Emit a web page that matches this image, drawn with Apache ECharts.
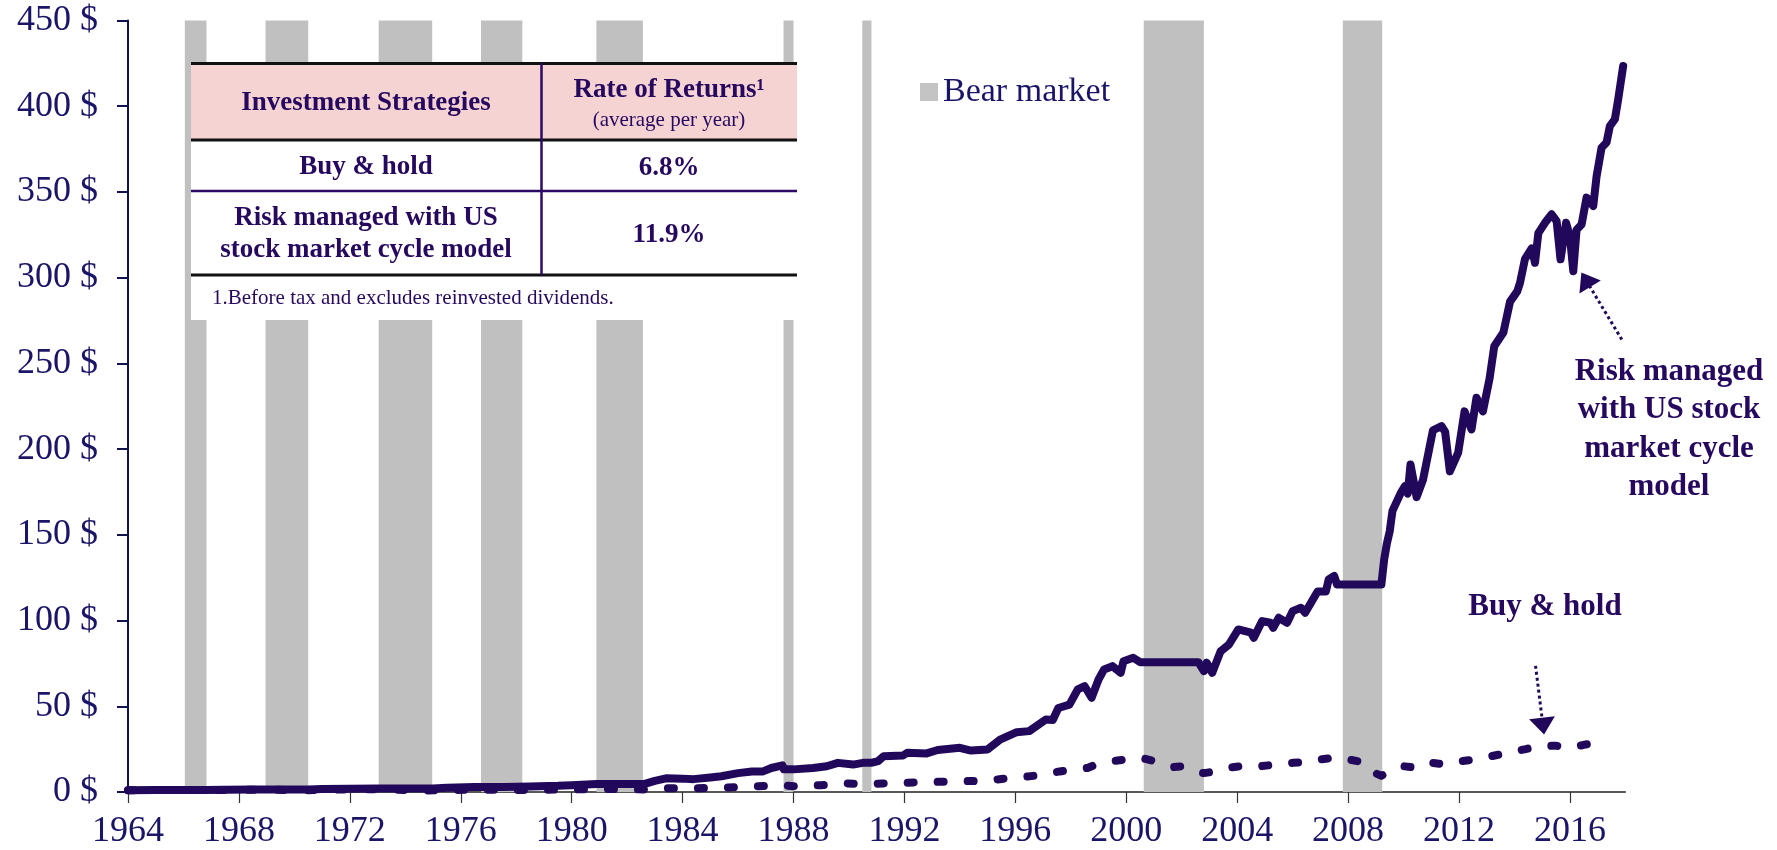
<!DOCTYPE html>
<html>
<head>
<meta charset="utf-8">
<script src="https://cdn.jsdelivr.net/npm/echarts@6/dist/echarts.min.js"></script>
<style>
html,body{margin:0;padding:0;background:#fff;}
#chart{width:1777px;height:850px;}
</style>
</head>
<body>
<div id="chart"></div>
<script>
// ---------- DATA ----------
const xTickLabels = [1964,1968,1972,1976,1980,1984,1988,1992,1996,2000,2004,2008,2012,2016];

const bearStart = [1966.05,1968.96,1973.04,1976.73,1980.89,1987.64,1990.48,2000.63,2007.81];
const bearEnd   = [1966.83,1970.50,1974.97,1978.22,1982.57,1988.00,1990.81,2002.80,2009.23];

const riskYears = [1964.0,1965.0,1966.0,1966.8,1967.5,1968.5,1969.0,1970.5,1971.0,1972.0,1973.0,1975.0,1975.5,1976.5,1977.5,1978.5,1979.5,1980.0,1980.9,1982.6,1983.0,1983.4,1984.0,1984.4,1985.0,1985.4,1986.0,1986.5,1986.9,1987.2,1987.6,1987.65,1988.0,1988.7,1989.2,1989.6,1990.15,1990.5,1990.8,1991.05,1991.25,1991.95,1992.1,1992.8,1993.2,1994.0,1994.4,1995.0,1995.45,1996.05,1996.5,1997.1,1997.35,1997.55,1997.95,1998.25,1998.5,1998.75,1999.0,1999.2,1999.5,1999.8,1999.9,2000.25,2000.5,2002.6,2002.8,2002.9,2003.1,2003.4,2003.7,2004.04,2004.5,2004.6,2004.9,2005.2,2005.3,2005.5,2005.8,2006.0,2006.3,2006.45,2006.9,2007.2,2007.3,2007.5,2007.6,2009.2,2009.3,2009.4,2009.5,2009.6,2009.9,2010.05,2010.15,2010.25,2010.47,2010.7,2011.06,2011.37,2011.5,2011.67,2011.97,2012.2,2012.45,2012.63,2012.86,2013.1,2013.27,2013.6,2013.84,2014.1,2014.2,2014.38,2014.62,2014.74,2014.86,2015.1,2015.34,2015.52,2015.66,2015.86,2016.0,2016.12,2016.24,2016.42,2016.6,2016.84,2016.96,2017.14,2017.32,2017.44,2017.62,2017.74,2017.92];
const riskValues = [1.0,1.1,1.2,1.2,1.3,1.4,1.5,1.5,1.7,1.9,2.0,2.0,2.5,2.9,2.9,3.2,3.6,4.0,4.6,4.6,6.5,8.0,7.8,7.5,8.5,9.2,11.0,12.0,12.0,14.0,15.5,13.2,13.2,14.0,15.0,17.0,16.0,17.0,17.0,18.0,20.8,21.3,22.9,22.5,24.5,25.8,24.2,24.8,30.6,34.9,35.5,42.3,42.0,49.0,51.0,59.8,61.7,55.0,65.6,71.5,73.4,69.5,76.3,78.3,75.7,75.7,70.5,75.4,69.5,82.0,86.0,94.8,92.9,90.0,99.7,98.7,95.8,101.6,98.7,105.5,107.5,104.5,117.0,117.0,124.0,126.0,121.0,121.0,135.6,145.0,152.0,164.0,174.5,178.4,174.0,191.0,172.0,182.0,211.0,213.4,210.0,187.0,198.0,222.0,211.5,230.0,222.0,241.0,260.0,268.0,286.0,292.0,297.0,311.0,317.0,308.7,326.0,332.0,337.0,333.0,310.7,332.0,324.0,303.8,328.0,331.0,346.7,341.8,359.0,375.8,378.8,388.4,392.4,404.0,423.5];

const holdYears = [1964.0,1965.0,1966.0,1966.8,1968.0,1968.9,1970.4,1971.0,1972.9,1974.8,1976.7,1978.2,1980.0,1980.9,1982.6,1983.5,1984.5,1985.5,1986.5,1987.6,1988.0,1989.0,1989.9,1990.8,1991.2,1992.0,1993.3,1994.4,1994.8,1995.6,1996.0,1996.7,1997.1,1997.6,1998.0,1998.6,1998.9,1999.5,2000.0,2000.5,2000.9,2001.2,2001.7,2002.0,2002.5,2002.8,2003.2,2003.6,2004.2,2004.8,2005.4,2006.0,2006.5,2007.0,2007.6,2008.0,2008.5,2008.9,2009.2,2009.6,2010.0,2010.6,2011.0,2011.6,2012.1,2012.6,2013.2,2013.8,2014.4,2014.85,2015.5,2016.0,2016.5,2016.96];
const holdValues = [1.0,1.1,1.2,1.0,1.3,1.4,1.0,1.3,1.6,0.9,1.4,1.2,1.5,1.8,1.5,2.2,2.2,2.5,3.2,4.0,3.4,4.0,5.0,4.5,5.0,5.4,6.0,6.4,6.3,7.8,8.3,9.5,10.5,12.0,13.0,14.0,16.0,18.0,19.0,20.0,18.5,17.0,14.5,15.0,12.0,11.0,12.0,14.0,15.2,15.0,16.0,17.0,17.5,19.0,20.2,19.0,17.5,11.5,9.5,13.0,15.0,14.0,17.0,16.0,18.0,19.0,21.0,23.0,25.0,26.7,27.0,25.8,27.5,29.0];

// ---------- STYLE ----------
const LINE = '#22085a';
const TXT = '#26095e';
const AXT = '#1b1568';
const SERIF = '"Liberation Serif","Times New Roman",serif';

const zip = (xs, ys) => xs.map((x, i) => [x, ys[i]]);
const bearAreas = bearStart.map((s, i) => [{ xAxis: s }, { xAxis: bearEnd[i] }]);

const chart = echarts.init(document.getElementById('chart'), null, { renderer: 'canvas' });

const T = (text, x, y, size, bold, align, extra) => Object.assign({
  type: 'text', z: 110, x: x, y: y,
  style: { text: text, fill: TXT, font: (bold ? 'bold ' : '') + size + 'px ' + SERIF,
           align: align || 'center', verticalAlign: 'middle' }
}, extra || {});
const L = (x1, y1, x2, y2, color, w) => ({
  type: 'line', z: 105, shape: { x1, y1, x2, y2 }, style: { stroke: color, lineWidth: w }
});

const option = {
  animation: false,
  backgroundColor: '#fff',
  grid: { left: 128, right: 151.6, top: 20.5, bottom: 57, containLabel: false },
  legend: {
    left: 915, top: 70, itemWidth: 18, itemHeight: 18,
    textStyle: { fontFamily: SERIF, fontSize: 34, color: AXT },
    data: [{ name: 'Bear market', icon: 'rect', itemStyle: { color: '#c4c4c4' } }]
  },
  xAxis: {
    type: 'value', min: 1964, max: 2018, interval: 4,
    splitLine: { show: false },
    axisLine: { show: true, lineStyle: { color: '#222', width: 1.5 } },
    axisTick: { show: true, length: 11, lineStyle: { color: '#333', width: 1.2 }, customValues: xTickLabels },
    axisLabel: { customValues: xTickLabels, fontFamily: SERIF, fontSize: 36, color: AXT, margin: 22,
                 formatter: v => String(v) }
  },
  yAxis: {
    type: 'value', min: 0, max: 450, interval: 50,
    splitLine: { show: false },
    axisLine: { show: true, lineStyle: { color: '#12124f', width: 2 } },
    axisTick: { show: true, length: 11, lineStyle: { color: '#12124f', width: 2 } },
    axisLabel: { fontFamily: SERIF, fontSize: 36, color: AXT, margin: 30, formatter: '{value} $' }
  },
  series: [
    {
      name: 'Bear market', type: 'line', data: [], z: 1, silent: true,
      itemStyle: { color: '#c4c4c4' },
      markArea: { silent: true, itemStyle: { color: '#c0c0c0', opacity: 1 }, data: bearAreas }
    },
    {
      name: 'Buy & hold', type: 'line', z: 3, showSymbol: false, silent: true,
      data: zip(holdYears, holdValues),
      lineStyle: { color: LINE, width: 8, type: [6, 24], cap: 'round', join: 'round' },
      markLine: {
        silent: true, symbol: ['none', 'triangle'], symbolSize: [26, 17],
        label: { show: false },
        lineStyle: { color: LINE, width: 3, type: [3, 3] },
        data: [[{ coord: [2014.76, 73.6] }, { coord: [2015.03, 38.4] }]]
      }
    },
    {
      name: 'Risk managed', type: 'line', z: 4, showSymbol: false, silent: true,
      data: zip(riskYears, riskValues),
      lineStyle: { color: LINE, width: 8, cap: 'round', join: 'round' },
      markLine: {
        silent: true, symbol: ['none', 'triangle'], symbolSize: [25, 17],
        label: { show: false },
        lineStyle: { color: LINE, width: 3, type: [3, 3] },
        data: [[{ coord: [2017.87, 263.9] }, { coord: [2016.57, 298.8] }]]
      }
    }
  ],
  graphic: [
    { type: 'rect', z: 100, shape: { x: 191, y: 63, width: 606, height: 257 }, style: { fill: '#fff' } },
    { type: 'rect', z: 101, shape: { x: 191, y: 63, width: 606, height: 77 }, style: { fill: '#f6d3d3' } },
    L(191, 63.5, 797, 63.5, '#111', 3),
    L(191, 140, 797, 140, '#111', 3),
    L(191, 191, 797, 191, '#2a0a63', 2.5),
    L(191, 275, 797, 275, '#111', 3),
    L(541.5, 63, 541.5, 275, '#2a0a63', 2.5),
    T('Investment Strategies', 366, 103, 27, true),
    T('Rate of Returns\u00B9', 669, 90, 27, true),
    T('(average per year)', 669, 120, 21, false),
    T('Buy & hold', 366, 167, 27, true),
    T('6.8%', 669, 168, 27, true),
    T('Risk managed with US', 366, 218, 27, true),
    T('stock market cycle model', 366, 250, 27, true),
    T('11.9%', 669, 235, 27, true),
    T('1.Before tax and excludes reinvested dividends.', 212, 298, 21, false, 'left'),
    T('Risk managed', 1669, 372, 31, true),
    T('with US stock', 1669, 410, 31, true),
    T('market cycle', 1669, 449, 31, true),
    T('model', 1669, 487, 31, true),
    T('Buy & hold', 1545, 607, 31, true)
  ]
};
chart.setOption(option);
</script>
</body>
</html>
